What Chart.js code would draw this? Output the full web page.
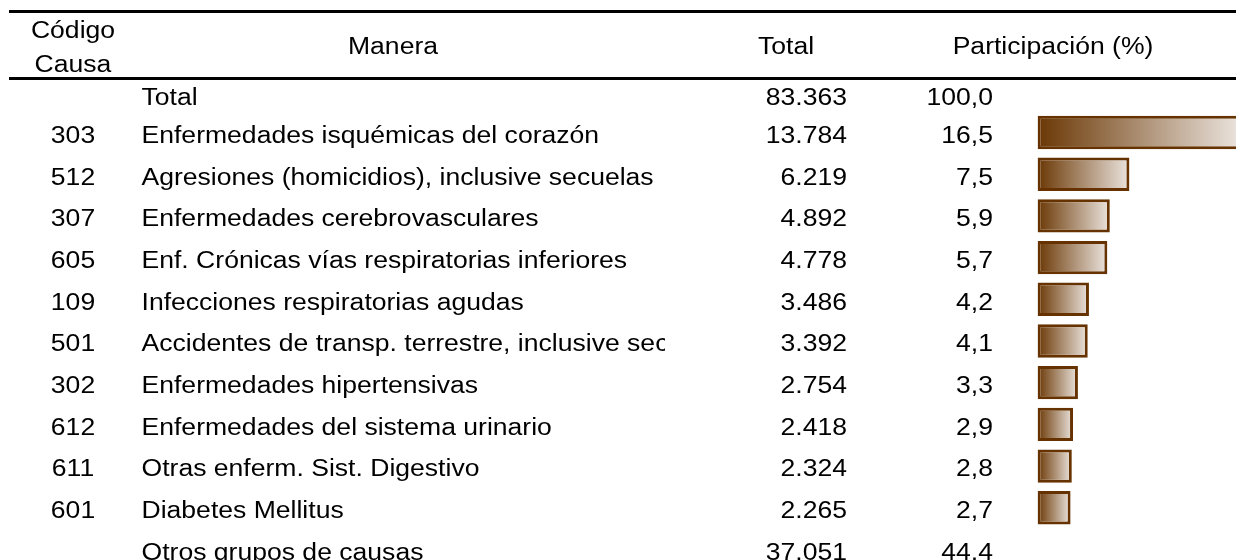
<!DOCTYPE html>
<html>
<head>
<meta charset="utf-8">
<script src="https://cdn.jsdelivr.net/npm/chart.js@4/dist/chart.umd.min.js"></script>
<style>
  html, body { margin: 0; padding: 0; background: #ffffff; overflow: hidden; }
  #c { display: block; }
</style>
</head>
<body>
<canvas id="c" width="1236" height="560"></canvas>
<script>
// ---- data ----
const headers = ["Código|Causa", "Manera", "Total", "Participación (%)"];
const codes = ["", "303", "512", "307", "605", "109", "501", "302", "612", "611", "601", ""];
const causes = [
  "Total",
  "Enfermedades isquémicas del corazón",
  "Agresiones (homicidios), inclusive secuelas",
  "Enfermedades cerebrovasculares",
  "Enf. Crónicas vías respiratorias inferiores",
  "Infecciones respiratorias agudas",
  "Accidentes de transp. terrestre, inclusive secuelas",
  "Enfermedades hipertensivas",
  "Enfermedades del sistema urinario",
  "Otras enferm. Sist. Digestivo",
  "Diabetes Mellitus",
  "Otros grupos de causas"
];
const totals = [83363, 13784, 6219, 4892, 4778, 3486, 3392, 2754, 2418, 2324, 2265, 37051];
const shares = [100.0, 16.5, 7.5, 5.9, 5.7, 4.2, 4.1, 3.3, 2.9, 2.8, 2.7, 44.4];

// ---- helpers ----
const FONT = '23.5px "Liberation Sans", Arial, sans-serif';
const SX = 1.13;           // horizontal stretch of the original rendering
const DARK = '#6a3704';
const LIGHT = '#ebe4de';
const BORDER = '#663300';
function fmtInt(n) { return String(n).replace(/\B(?=(\d{3})+(?!\d))/g, '.'); }
function fmtPct(v) { return v.toFixed(1).replace('.', ','); }

// bars only for individual causes (rows with a code)
const barPoints = [];
codes.forEach((c, i) => { if (c !== '') barPoints.push({ x: shares[i], y: i }); });

function txt(ctx, s, x, y, align) {
  ctx.save();
  ctx.translate(x, y);
  ctx.scale(SX, 1);
  ctx.textAlign = align;
  ctx.fillText(s, 0, 0);
  ctx.restore();
}

const tablePlugin = {
  id: 'tablePlugin',
  afterDraw(chart) {
    const ctx = chart.ctx;
    const ys = chart.scales.y;
    const W = chart.width;
    ctx.save();
    ctx.fillStyle = '#000';
    ctx.font = FONT;
    ctx.textBaseline = 'alphabetic';
    const cap = 8.4;
    // header rules
    ctx.fillRect(9, 10, W - 9, 3);
    ctx.fillRect(9, 77, W - 9, 3);
    // headers
    const hdr = headers[0].split('|');
    txt(ctx, hdr[0], 73, 30 + cap, 'center');
    txt(ctx, hdr[1], 73, 64 + cap, 'center');
    txt(ctx, headers[1], 393, 46 + cap, 'center');
    txt(ctx, headers[2], 786, 46 + cap, 'center');
    txt(ctx, headers[3], 1053, 46 + cap, 'center');
    // rows
    for (let i = 0; i < causes.length; i++) {
      const yc = ys.getPixelForValue(i) + (i === 0 ? 6 : 2) + cap;
      if (codes[i]) txt(ctx, codes[i], 73, yc, 'center');
      ctx.save();
      ctx.beginPath();
      ctx.rect(130, 0, 535, 560);
      ctx.clip();
      txt(ctx, causes[i], 141.5, yc, 'left');
      ctx.restore();
      txt(ctx, fmtInt(totals[i]), 847, yc, 'right');
      txt(ctx, fmtPct(shares[i]), 993, yc, 'right');
    }
    ctx.restore();
  }
};

new Chart(document.getElementById('c'), {
  type: 'bar',
  data: {
    datasets: [{
      data: barPoints,
      borderColor: BORDER,
      borderWidth: 3,
      borderSkipped: false,
      barPercentage: 0.8,
      categoryPercentage: 1.0,
      backgroundColor(context) {
        const chart = context.chart;
        const xs = chart.scales && chart.scales.x;
        if (!chart.chartArea || !xs || !context.parsed) return DARK;
        const x0 = xs.getPixelForValue(0);
        const x1 = xs.getPixelForValue(context.parsed.x);
        if (!isFinite(x0) || !isFinite(x1) || x1 <= x0) return DARK;
        const g = chart.ctx.createLinearGradient(x0, 0, x1, 0);
        g.addColorStop(0, DARK);
        g.addColorStop(1, LIGHT);
        return g;
      }
    }]
  },
  options: {
    indexAxis: 'y',
    responsive: false,
    animation: false,
    events: [],
    layout: { padding: { left: 1037.5, top: 80, right: 0, bottom: 0 } },
    plugins: { legend: { display: false }, tooltip: { enabled: false } },
    scales: {
      x: { type: 'linear', display: false, min: 0, max: 16.2, grid: { display: false } },
      y: { type: 'linear', display: false, reverse: true, offset: false, min: -0.259, max: 11.252, grid: { display: false, offset: false } }
    }
  },
  plugins: [tablePlugin]
});
</script>
</body>
</html>
